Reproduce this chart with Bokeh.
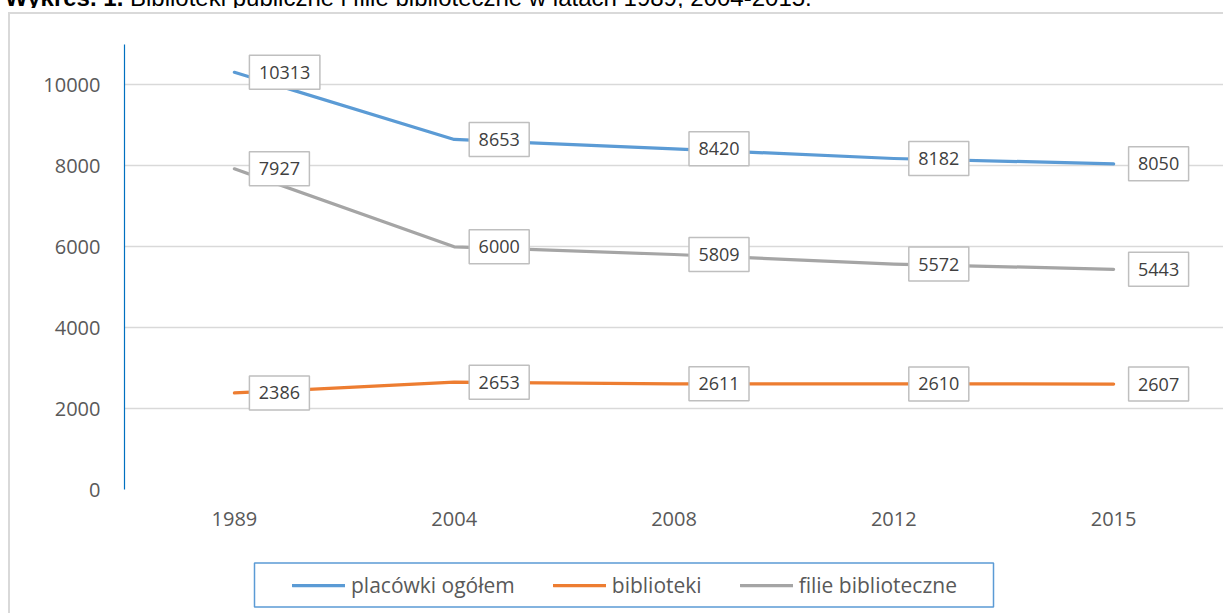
from bokeh.plotting import figure
from bokeh.layouts import column
from bokeh.models import (Range1d, FixedTicker, ColumnDataSource, Legend, LegendItem,
                          BoxAnnotation, Div)
from bokeh.embed import file_html
from bokeh.resources import INLINE
from bokeh.core.properties import value

# ---- data ----
years = ["1989", "2004", "2008", "2012", "2015"]
placowki = [10313, 8653, 8420, 8182, 8050]
biblioteki = [2386, 2653, 2611, 2610, 2607]
filie = [7927, 6000, 5809, 5572, 5443]
series_names = ["placówki ogółem", "biblioteki", "filie biblioteczne"]
y_ticks = [0, 2000, 4000, 6000, 8000, 10000]
title_bold = "Wykres. 1."
title_rest = "Biblioteki publiczne i filie biblioteczne w latach 1989, 2004-2015."

# ---- layout (page pixels) ----
W, H = 1223, 613
HT = 8                        # visible strip of the (cut) title
HM = 542                      # chart part
HL = H - HT - HM              # legend strip
FL, FR = 124, 1223
FT, FB = 36, 481              # frame top/bottom inside chart part
YMAX = 11000
NCAT = len(years)
px_x = (FR - FL) / NCAT
colors = ["#5B9BD5", "#ED7D31", "#A5A5A5"]
all_series = [placowki, biblioteki, filie]

# ---- title strip ----
title = Div(text=('<div style="position:relative; top:-14px; left:5px; white-space:nowrap; '
                  'font-family:\'Liberation Sans\', Arial, sans-serif; font-size:24px; '
                  'line-height:24px; color:#000000;"><b>' + title_bold + '</b> '
                  + title_rest + '</div>'),
            width=W, height=HT, margin=(0, 0, 0, 0), styles={"overflow": "hidden"})

# ---- chart ----
p = figure(width=W, height=HM, x_range=Range1d(0, NCAT), y_range=Range1d(0, YMAX),
           output_backend="svg", toolbar_location=None,
           min_border_left=FL, min_border_right=W - FR,
           min_border_top=FT, min_border_bottom=HM - FB)
p.margin = (0, 0, 0, 0)
p.outline_line_color = None
p.background_fill_color = "white"
p.border_fill_color = None
p.styles = {"box-shadow": "inset 8px 4px 0 0 #ffffff, inset 10px 6px 0 0 #d9d9d9"}

xs = [i + 0.5 for i in range(NCAT)]

for vals, col in zip(all_series, colors):
    p.line(xs, vals, line_color=col, line_width=3.25, line_cap="round", line_join="round")

# data labels
for vals in all_series:
    texts = [str(v) for v in vals]
    widths = [10.5 * len(t) + 18 for t in texts]
    lx = [x + (15 + w / 2) / px_x for x, w in zip(xs, widths)]
    src = ColumnDataSource(dict(x=lx, y=vals, t=texts, w=widths))
    p.rect(x="x", y="y", width="w", height=34, width_units="screen", height_units="screen",
           source=src, fill_color="white", line_color="#BFBFBF", line_width=1.5)
    p.text(x="x", y="y", text="t", source=src, text_align="center", text_baseline="middle",
           text_font=value("Open Sans"), text_font_size="18px", text_color="#404040")

# axes
p.xaxis.ticker = FixedTicker(ticks=xs)
p.xaxis.major_label_overrides = {x: y for x, y in zip(xs, years)}
p.xaxis.axis_line_color = None
p.xaxis.major_tick_line_color = None
p.xaxis.minor_tick_line_color = None
p.xaxis.major_label_standoff = 16
p.xaxis.major_label_text_font = "Open Sans"
p.xaxis.major_label_text_font_size = "20px"
p.xaxis.major_label_text_color = "#595959"

p.yaxis.ticker = FixedTicker(ticks=y_ticks)
p.yaxis.axis_line_color = "#0070C0"
p.yaxis.axis_line_width = 1.2
p.yaxis.major_tick_line_color = None
p.yaxis.minor_tick_line_color = None
p.yaxis.major_label_standoff = 18
p.yaxis.major_label_text_font = "Open Sans"
p.yaxis.major_label_text_font_size = "20px"
p.yaxis.major_label_text_color = "#595959"

p.xgrid.visible = False
p.ygrid.grid_line_color = "#D9D9D9"
p.ygrid.grid_line_width = 1.5

# ---- legend strip (data coordinates = page pixels) ----
Y0 = HT + HM
pl = figure(width=W, height=HL, x_range=Range1d(FL, FR), y_range=Range1d(H, Y0),
            x_axis_type=None, y_axis_type=None, output_backend="svg", toolbar_location=None,
            min_border_left=FL, min_border_right=W - FR, min_border_top=0, min_border_bottom=0)
pl.margin = (0, 0, 0, 0)
pl.outline_line_color = None
pl.grid.visible = False
pl.background_fill_color = "white"
pl.border_fill_color = None
pl.styles = {"box-shadow": "inset 8px 0 0 0 #ffffff, inset 10px 0 0 0 #d9d9d9"}

nan = float("nan")
leg_renderers = [pl.line(x=[nan], y=[nan], line_color=c, line_width=3.25, line_cap="round")
                 for c in colors]
legend = Legend(items=[LegendItem(label=n, renderers=[r])
                       for n, r in zip(series_names, leg_renderers)],
                orientation="horizontal", location=(292 - FL, 13.5),
                glyph_width=53, glyph_height=30, label_height=30, label_standoff=6, spacing=38,
                padding=0, margin=0, border_line_color=None, background_fill_alpha=0,
                label_text_font="Open Sans", label_text_font_size="21px",
                label_text_color="#595959")
pl.add_layout(legend, "center")

pl.add_layout(BoxAnnotation(left=254, right=993, top=562.5, bottom=606.5,
                            fill_alpha=0, line_color="#5B9BD5", line_alpha=1, line_width=1.5))

layout = column(title, p, pl, spacing=0)
open("out.html", "w").write(file_html(layout, INLINE))
